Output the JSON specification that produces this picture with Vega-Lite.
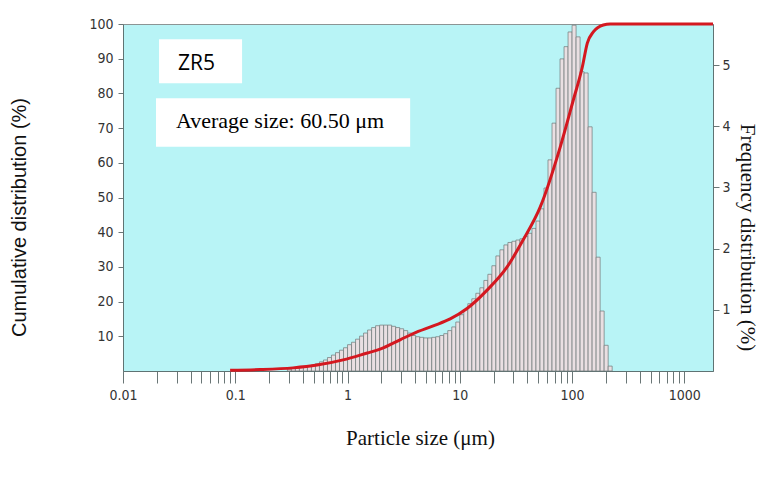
{
  "$schema": "https://vega.github.io/schema/vega-lite/v6.json",
  "width": 590,
  "height": 347,
  "autosize": {"type": "none"},
  "padding": {"left": 123, "top": 24, "right": 62, "bottom": 106},
  "background": "white",
  "config": {
    "view": {"fill": "#b8f4f6", "stroke": "#8c9494", "strokeWidth": 1},
    "axis": {
      "grid": false,
      "labelFont": "DejaVu Sans Condensed, Liberation Sans Narrow, Liberation Sans",
      "labelFontSize": 14,
      "labelColor": "#333333",
      "tickColor": "#6a7676",
      "domainColor": "#5f7373",
      "titleFontWeight": "normal",
      "titleColor": "#111111"
    }
  },
  "datasets": {
    "frequency": [
      {"lo": 0.29126, "hi": 0.31623, "f": 0.03},
      {"lo": 0.31623, "hi": 0.34333, "f": 0.04},
      {"lo": 0.34333, "hi": 0.37276, "f": 0.05},
      {"lo": 0.37276, "hi": 0.40471, "f": 0.06},
      {"lo": 0.40471, "hi": 0.4394, "f": 0.07},
      {"lo": 0.4394, "hi": 0.47706, "f": 0.08},
      {"lo": 0.47706, "hi": 0.51795, "f": 0.1},
      {"lo": 0.51795, "hi": 0.56234, "f": 0.12},
      {"lo": 0.56234, "hi": 0.61054, "f": 0.15},
      {"lo": 0.61054, "hi": 0.66287, "f": 0.18},
      {"lo": 0.66287, "hi": 0.71969, "f": 0.22},
      {"lo": 0.71969, "hi": 0.78137, "f": 0.26},
      {"lo": 0.78137, "hi": 0.84834, "f": 0.3},
      {"lo": 0.84834, "hi": 0.92106, "f": 0.34},
      {"lo": 0.92106, "hi": 1.0, "f": 0.38},
      {"lo": 1.0, "hi": 1.0857, "f": 0.43},
      {"lo": 1.0857, "hi": 1.1788, "f": 0.47},
      {"lo": 1.1788, "hi": 1.2798, "f": 0.52},
      {"lo": 1.2798, "hi": 1.3895, "f": 0.57},
      {"lo": 1.3895, "hi": 1.5086, "f": 0.62},
      {"lo": 1.5086, "hi": 1.6379, "f": 0.67},
      {"lo": 1.6379, "hi": 1.7783, "f": 0.71},
      {"lo": 1.7783, "hi": 1.9307, "f": 0.74},
      {"lo": 1.9307, "hi": 2.0962, "f": 0.75},
      {"lo": 2.0962, "hi": 2.2758, "f": 0.75},
      {"lo": 2.2758, "hi": 2.4709, "f": 0.75},
      {"lo": 2.4709, "hi": 2.6827, "f": 0.73},
      {"lo": 2.6827, "hi": 2.9126, "f": 0.71},
      {"lo": 2.9126, "hi": 3.1623, "f": 0.69},
      {"lo": 3.1623, "hi": 3.4333, "f": 0.66},
      {"lo": 3.4333, "hi": 3.7276, "f": 0.62},
      {"lo": 3.7276, "hi": 4.0471, "f": 0.58},
      {"lo": 4.0471, "hi": 4.394, "f": 0.56},
      {"lo": 4.394, "hi": 4.7706, "f": 0.55},
      {"lo": 4.7706, "hi": 5.1795, "f": 0.54},
      {"lo": 5.1795, "hi": 5.6234, "f": 0.54},
      {"lo": 5.6234, "hi": 6.1054, "f": 0.55},
      {"lo": 6.1054, "hi": 6.6287, "f": 0.56},
      {"lo": 6.6287, "hi": 7.1969, "f": 0.58},
      {"lo": 7.1969, "hi": 7.8137, "f": 0.61},
      {"lo": 7.8137, "hi": 8.4834, "f": 0.66},
      {"lo": 8.4834, "hi": 9.2106, "f": 0.72},
      {"lo": 9.2106, "hi": 10.0, "f": 0.8},
      {"lo": 10.0, "hi": 10.857, "f": 0.92},
      {"lo": 10.857, "hi": 11.788, "f": 1.0},
      {"lo": 11.788, "hi": 12.798, "f": 1.1},
      {"lo": 12.798, "hi": 13.895, "f": 1.18},
      {"lo": 13.895, "hi": 15.086, "f": 1.27},
      {"lo": 15.086, "hi": 16.379, "f": 1.36},
      {"lo": 16.379, "hi": 17.783, "f": 1.48},
      {"lo": 17.783, "hi": 19.307, "f": 1.58},
      {"lo": 19.307, "hi": 20.962, "f": 1.72},
      {"lo": 20.962, "hi": 22.758, "f": 1.88},
      {"lo": 22.758, "hi": 24.709, "f": 1.98},
      {"lo": 24.709, "hi": 26.827, "f": 2.06},
      {"lo": 26.827, "hi": 29.126, "f": 2.1},
      {"lo": 29.126, "hi": 31.623, "f": 2.12},
      {"lo": 31.623, "hi": 34.333, "f": 2.14},
      {"lo": 34.333, "hi": 37.276, "f": 2.16},
      {"lo": 37.276, "hi": 40.471, "f": 2.2},
      {"lo": 40.471, "hi": 43.94, "f": 2.25},
      {"lo": 43.94, "hi": 47.706, "f": 2.33},
      {"lo": 47.706, "hi": 51.795, "f": 2.45},
      {"lo": 51.795, "hi": 56.234, "f": 2.65},
      {"lo": 56.234, "hi": 61.054, "f": 2.99},
      {"lo": 61.054, "hi": 66.287, "f": 3.45},
      {"lo": 66.287, "hi": 71.969, "f": 4.05},
      {"lo": 71.969, "hi": 78.137, "f": 4.62},
      {"lo": 78.137, "hi": 84.834, "f": 5.1},
      {"lo": 84.834, "hi": 92.106, "f": 5.3},
      {"lo": 92.106, "hi": 100.0, "f": 5.54},
      {"lo": 100.0, "hi": 108.57, "f": 5.65},
      {"lo": 108.57, "hi": 117.88, "f": 5.46},
      {"lo": 117.88, "hi": 127.98, "f": 4.89},
      {"lo": 127.98, "hi": 138.95, "f": 4.87},
      {"lo": 138.95, "hi": 150.86, "f": 3.99},
      {"lo": 150.86, "hi": 163.79, "f": 2.92},
      {"lo": 163.79, "hi": 177.83, "f": 1.86},
      {"lo": 177.83, "hi": 193.07, "f": 0.98},
      {"lo": 193.07, "hi": 209.62, "f": 0.42},
      {"lo": 209.62, "hi": 227.58, "f": 0.08}
    ],
    "cumulative": [
      {"size": 0.09, "cum": 0.2},
      {"size": 0.166, "cum": 0.4},
      {"size": 0.327, "cum": 0.9},
      {"size": 0.536, "cum": 1.7},
      {"size": 0.914, "cum": 3.2},
      {"size": 1.5, "cum": 5.2},
      {"size": 1.95, "cum": 6.3},
      {"size": 2.94, "cum": 9.0},
      {"size": 3.85, "cum": 10.8},
      {"size": 5.8, "cum": 13.0},
      {"size": 8.21, "cum": 15.0},
      {"size": 11.6, "cum": 18.0},
      {"size": 17.5, "cum": 23.3},
      {"size": 26.4, "cum": 30.0},
      {"size": 36.7, "cum": 37.8},
      {"size": 52.1, "cum": 47.3},
      {"size": 78.5, "cum": 64.6},
      {"size": 102.6, "cum": 78.1},
      {"size": 123.4, "cum": 87.6},
      {"size": 136.7, "cum": 94.5},
      {"size": 154.6, "cum": 97.7},
      {"size": 189.7, "cum": 99.7},
      {"size": 218.8, "cum": 100},
      {"size": 1800, "cum": 100}
    ]
  },
  "resolve": {"scale": {"y": "independent"}},
  "layer": [
    {
      "data": {"values": [{}]},
      "mark": {"type": "rect", "fill": "white"},
      "encoding": {
        "x": {"datum": 0.02094, "type": "quantitative", "scale": {"type": "log", "domain": [0.01, 1800], "nice": false}},
        "x2": {"datum": 0.115},
        "y": {"datum": 95.59, "type": "quantitative", "scale": {"domain": [0, 100], "nice": false}, "axis": null},
        "y2": {"datum": 82.91}
      }
    },
    {
      "data": {"values": [{}]},
      "mark": {"type": "rect", "fill": "white"},
      "encoding": {
        "x": {"datum": 0.01968, "type": "quantitative", "scale": {"type": "log", "domain": [0.01, 1800], "nice": false}},
        "x2": {"datum": 3.613},
        "y": {"datum": 78.59, "type": "quantitative", "scale": {"domain": [0, 100], "nice": false}, "axis": null},
        "y2": {"datum": 64.64}
      }
    },
    {
      "data": {"values": [{}]},
      "mark": {"type": "text", "text": "ZR5", "font": "Open Sans", "fontSize": 21, "align": "left", "baseline": "middle", "color": "#000000"},
      "encoding": {
        "x": {"datum": 0.0309, "type": "quantitative", "scale": {"type": "log", "domain": [0.01, 1800], "nice": false}},
        "y": {"datum": 88.6, "type": "quantitative", "scale": {"domain": [0, 100], "nice": false}, "axis": null}
      }
    },
    {
      "data": {"values": [{}]},
      "mark": {"type": "text", "text": "Average size: 60.50 μm", "font": "Liberation Serif", "fontSize": 22, "align": "left", "baseline": "alphabetic", "color": "#000000"},
      "encoding": {
        "x": {"datum": 0.02963, "type": "quantitative", "scale": {"type": "log", "domain": [0.01, 1800], "nice": false}},
        "y": {"datum": 70.0, "type": "quantitative", "scale": {"domain": [0, 100], "nice": false}, "axis": null}
      }
    },
    {
      "data": {"name": "frequency"},
      "mark": {"type": "rect", "fill": "#e9dfe2", "stroke": "#6f7777", "strokeWidth": 0.7},
      "encoding": {
        "x": {"field": "lo", "type": "quantitative", "scale": {"type": "log", "domain": [0.01, 1800], "nice": false}},
        "x2": {"field": "hi"},
        "y": {
          "field": "f",
          "type": "quantitative",
          "scale": {"domain": [0, 5.67], "nice": false, "zero": true},
          "axis": {
            "orient": "right",
            "values": [1, 2, 3, 4, 5],
            "tickSize": 6,
            "labelPadding": 3,
            "title": "Frequency distribution (%)",
            "titleFont": "Liberation Serif",
            "titleFontSize": 21,
            "titleAngle": 90,
            "titleAlign": "center",
            "titleBaseline": "alphabetic",
            "titleX": 27,
            "titleY": 213
          }
        },
        "y2": {"datum": 0}
      }
    },
    {
      "data": {"name": "cumulative"},
      "mark": {"type": "line", "color": "#d41820", "strokeWidth": 3, "interpolate": "monotone"},
      "encoding": {
        "x": {
          "field": "size",
          "type": "quantitative",
          "scale": {"type": "log", "domain": [0.01, 1800], "nice": false},
          "axis": {
            "values": [0.01, 0.02, 0.03, 0.04, 0.05, 0.06, 0.07, 0.08, 0.09,
                       0.1, 0.2, 0.3, 0.4, 0.5, 0.6, 0.7, 0.8, 0.9,
                       1, 2, 3, 4, 5, 6, 7, 8, 9,
                       10, 20, 30, 40, 50, 60, 70, 80, 90,
                       100, 200, 300, 400, 500, 600, 700, 800, 900, 1000],
            "labelExpr": "datum.value == 0.01 ? '0.01' : datum.value == 0.1 ? '0.1' : datum.value == 1 ? '1' : datum.value == 10 ? '10' : datum.value == 100 ? '100' : datum.value == 1000 ? '1000' : ''",
            "labelOverlap": false,
            "labelFlush": false,
            "labelBound": false,
            "tickSize": 12,
            "labelPadding": 5,
            "title": "Particle size (μm)",
            "titleFont": "Liberation Serif",
            "titleFontSize": 21,
            "titleAlign": "center",
            "titleBaseline": "alphabetic",
            "titleX": 297,
            "titleY": 73
          }
        },
        "y": {
          "field": "cum",
          "type": "quantitative",
          "scale": {"domain": [0, 100], "nice": false},
          "axis": {
            "orient": "left",
            "values": [10, 20, 30, 40, 50, 60, 70, 80, 90, 100],
            "tickSize": 5,
            "labelPadding": 5,
            "title": "Cumulative distribution (%)",
            "titleFont": "Liberation Sans",
            "titleFontSize": 20,
            "titleAngle": -90,
            "titleAlign": "center",
            "titleBaseline": "alphabetic",
            "titleX": -98,
            "titleY": 193
          }
        }
      }
    }
  ]
}
